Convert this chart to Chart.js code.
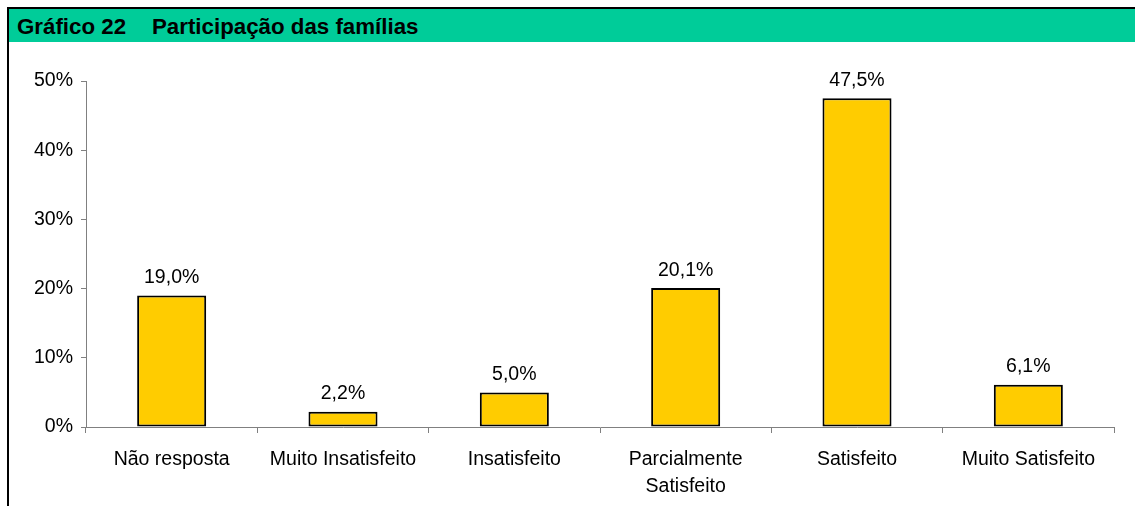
<!DOCTYPE html>
<html>
<head>
<meta charset="utf-8">
<script src="https://cdn.jsdelivr.net/npm/chart.js@4"></script>
<style>
    body { margin: 0; background: #fff; }
    #wrap { position: relative; width: 1135px; height: 506px; overflow: hidden; }
    #frame { position: absolute; left: 7px; top: 7px; right: -5px; bottom: -5px; border-top: 2px solid #000; border-left: 2px solid #000; }
    #titlebar { position: absolute; left: 9px; top: 9px; right: 0; height: 33px; background: #00CC99;
        font: bold 22.3px "Liberation Sans", Arial, sans-serif; color: #000; line-height: 33px; white-space: pre; }
    #titlebar span { position: absolute; top: 1px; }
    canvas { position: absolute; left: 0; top: 0; }
</style>
</head>
<body>
<div id="wrap">
    <div id="frame"></div>
    <div id="titlebar"><span style="left:8px">Gráfico 22</span><span style="left:143px">Participação das famílias</span></div>
    <canvas id="chart" width="1135" height="506"></canvas>
</div>
<script>
const categories = ["Não resposta", "Muito Insatisfeito", "Insatisfeito", ["Parcialmente", "Satisfeito"], "Satisfeito", "Muito Satisfeito"];
const values = [19.0, 2.2, 5.0, 20.1, 47.5, 6.1];
const yTicks = [0, 10, 20, 30, 40, 50];

const font = { family: "'Liberation Sans', Arial, sans-serif", size: 19.5, lineHeight: 1.4 };

// draws the value above each bar
const valueLabels = {
    id: "valueLabels",
    afterDatasetsDraw(chart) {
        const ctx = chart.ctx;
        const meta = chart.getDatasetMeta(0);
        ctx.save();
        ctx.font = `${font.size}px ${font.family}`;
        ctx.fillStyle = "#000";
        ctx.textAlign = "center";
        ctx.textBaseline = "bottom";
        meta.data.forEach((bar, i) => {
            ctx.fillText(values[i].toFixed(1).replace(".", ",") + "%", bar.x, bar.y - 8);
        });
        ctx.restore();
    }
};

new Chart(document.getElementById("chart"), {
    type: "bar",
    data: {
        labels: categories,
        datasets: [{
            data: values,
            backgroundColor: "#FFCC00",
            borderColor: "#000",
            borderWidth: 2,
            borderSkipped: false,
            categoryPercentage: 1,
            barPercentage: 0.403,
        }],
    },
    options: {
        responsive: false,
        animation: false,
        layout: { padding: { left: 0, right: 21, top: 81, bottom: 0 } },
        plugins: { legend: { display: false }, tooltip: { enabled: false } },
        scales: {
            x: {
                grid: { drawOnChartArea: false, tickLength: 6, color: "#808080" },
                border: { color: "#808080", width: 1 },
                ticks: { color: "#000", font: font, padding: 13, maxRotation: 0, autoSkip: false },
                afterFit(scale) { scale.height = 79; },
            },
            y: {
                min: 0,
                max: 50,
                afterBuildTicks(scale) { scale.ticks = yTicks.map(v => ({ value: v })); },
                grid: { drawOnChartArea: false, tickLength: 5, color: "#808080" },
                border: { color: "#808080", width: 1 },
                ticks: { color: "#000", font: font, padding: 8, callback: v => v + "%" },
                afterFit(scale) { scale.width = 86; },
            },
        },
    },
    plugins: [valueLabels],
});
</script>
</body>
</html>
